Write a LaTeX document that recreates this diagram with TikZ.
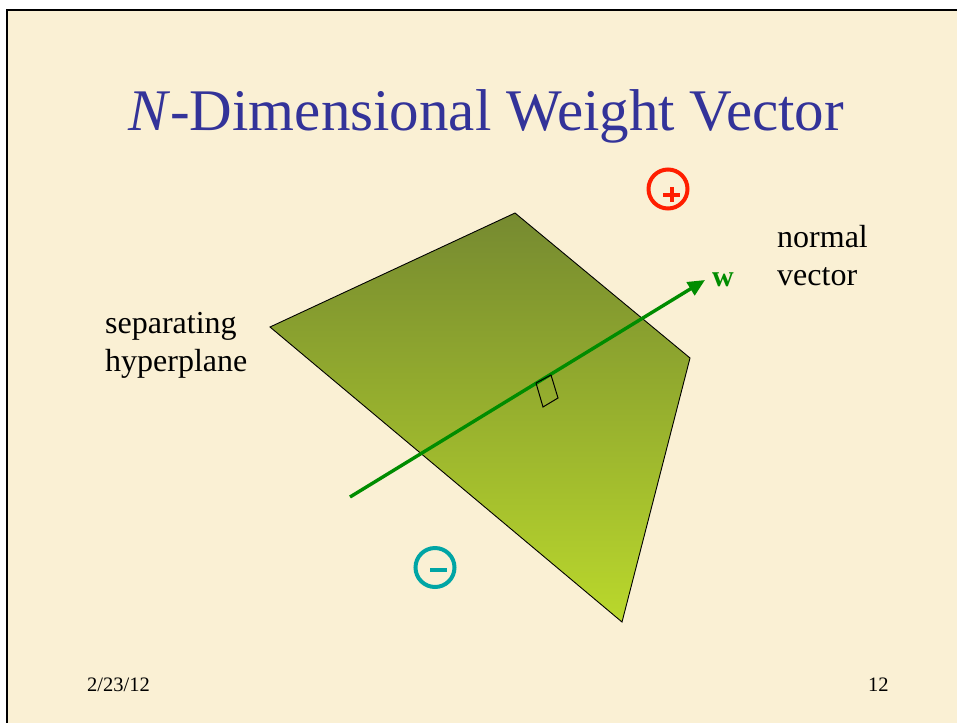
\documentclass[tikz,border=0pt]{standalone}
\usepackage{fontspec}
\setmainfont{Liberation Serif}
\usetikzlibrary{arrows.meta}
\definecolor{cream}{RGB}{250,240,212}
\definecolor{titleblue}{RGB}{51,51,153}
\definecolor{planetop}{RGB}{118,138,48}
\definecolor{planebot}{RGB}{186,216,44}
\definecolor{vecgreen}{RGB}{0,140,0}
\definecolor{plusred}{RGB}{255,30,0}
\definecolor{minusteal}{RGB}{0,165,165}
\tikzset{
  lbl/.style={anchor=base west,inner sep=0pt,font=\fontsize{32}{38}\selectfont,align=left},
  foot/.style={anchor=base west,inner sep=0pt,font=\fontsize{20.5}{22}\selectfont},
  signcircle/.style={circle,draw,line width=4pt,minimum size=39pt,inner sep=0pt},
}
\begin{document}
\begin{tikzpicture}[x=1pt,y=-1pt]
\useasboundingbox (0,0) rectangle (957,723);
\fill[white] (0,0) rectangle (957,723);
\fill[cream] (7,10) rectangle (957,723);
\draw[line width=2.5pt] (957,10) -- (7,10) -- (7,723);
% title
\node[anchor=base,inner sep=0pt,text=titleblue,font=\fontsize{59}{62}\selectfont] (title) at (486,130) {\textit{N}-Dimensional Weight Vector};
% plane
\coordinate (pa) at (270,327);
\coordinate (pb) at (515,213);
\coordinate (pc) at (690,358);
\coordinate (pd) at (622,622);
\shade[top color=planetop,bottom color=planebot] (pa) -- (pb) -- (pc) -- (pd) -- cycle;
\draw[line width=0.9pt,line join=miter] (pa) -- (pb) -- (pc) -- (pd) -- cycle;
% normal vector
\coordinate (ws) at (350,497);
\coordinate (we) at (705,280);
\draw[vecgreen,line width=3.4pt,-{Triangle[length=17pt,width=15pt]}] (ws) -- (we);
% right angle mark
\coordinate (r1) at (536,383);
\coordinate (r2) at (551,375);
\coordinate (r3) at (558,398);
\coordinate (r4) at (543,407);
\draw[line width=1pt] (r1) -- (r4) -- (r3) -- (r2);
\draw[line width=1pt] (r1) -- (r2);
% labels
\node[lbl] (sep) at (105,371) {separating\\hyperplane};
\node[lbl] (norm) at (777,285) {normal\\vector};
\node[anchor=base west,inner sep=0pt,text=vecgreen,font=\fontsize{30}{30}\selectfont\bfseries] (w) at (712,286) {w};
% plus / minus
\node[signcircle,draw=plusred] (plus) at (668,189) {};
\draw[plusred,line width=4pt] ([xshift=-5pt,yshift=-5.5pt]plus.center) -- ([xshift=12pt,yshift=-5.5pt]plus.center);
\draw[plusred,line width=4pt] ([xshift=3.5pt,yshift=2pt]plus.center) -- ([xshift=3.5pt,yshift=-13pt]plus.center);
\node[signcircle,draw=minusteal] (minus) at (435,567.5) {};
\draw[minusteal,line width=4pt] ([xshift=-5pt,yshift=-2.5pt]minus.center) -- ([xshift=12pt,yshift=-2.5pt]minus.center);
% footer
\node[foot] (date) at (87,691) {2/23/12};
\node[foot] (page) at (868,691) {12};
\end{tikzpicture}
\end{document}
